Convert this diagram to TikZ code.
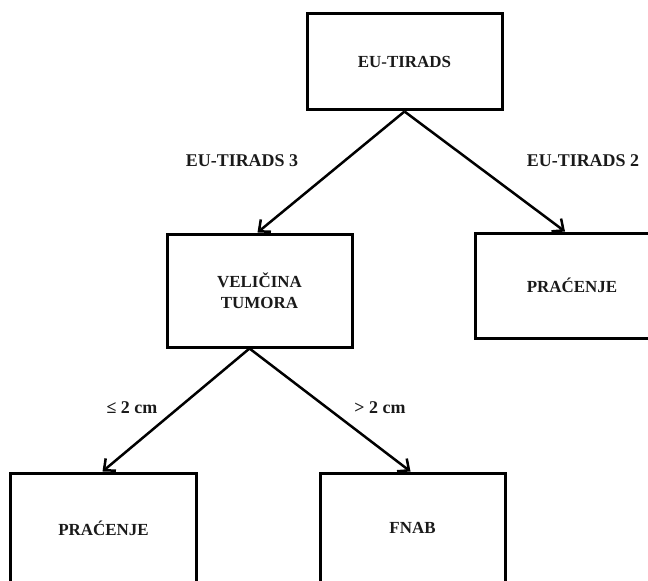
\documentclass[tikz,border=0pt]{standalone}
\usepackage{xcolor}
\usepackage{fontspec}
\setmainfont{Liberation Serif}
\usepackage{tikz}
\usetikzlibrary{positioning, arrows.meta}
\definecolor{boxborder}{HTML}{000000}
\definecolor{flowtext}{HTML}{1A1A1A}

\begin{document}
\begin{tikzpicture}[x=1bp, y=-1bp,
    flowbox/.style={draw=boxborder, line width=3bp, inner sep=0pt, align=center,
          text=flowtext, font=\bfseries\fontsize{17}{21}\selectfont},
    flowlabel/.style={text=flowtext, inner sep=0pt, font=\bfseries\fontsize{18}{21}\selectfont},
    flowarrow/.style={draw=boxborder, line width=2.5bp,
          -{Straight Barb[length=9bp, width=16bp, line width=2.5bp]}}]
    \useasboundingbox (0,0) rectangle (648,581);
    \clip (0,0) rectangle (648,581);
    % boxes
    \node[flowbox, minimum width=195bp, minimum height=96bp] (tirads) at (404.5,62) {EU-TIRADS};
    \node[flowbox, minimum width=185bp, minimum height=113bp] (velicina) at (259.5,290.5) {VELIČINA\\TUMORA};
    \node[flowbox, minimum width=194bp, minimum height=105bp] (pracenjeR) at (572,285.5) {PRAĆENJE};
    \node[flowbox, minimum width=185bp, minimum height=110bp] (pracenjeL) at (103.5,528) {PRAĆENJE};
    \node[flowbox, minimum width=185bp, minimum height=110bp] (fnab) at (412.5,528) {FNAB};
    % labels
    \node[flowlabel] (tirads3) at (242,161) {EU-TIRADS 3};
    \node[flowlabel] (tirads2) at (583,161) {EU-TIRADS 2};
    \node[flowlabel] (small) at (132,408) {≤ 2 cm};
    \node[flowlabel] (large) at (380,408) {> 2 cm};
    % arrows
    \draw[flowarrow] (tirads.south) -- ([xshift=-2bp]velicina.north);
    \draw[flowarrow] (tirads.south) -- ([xshift=-7bp]pracenjeR.north);
    \draw[flowarrow] ([xshift=-10bp]velicina.south) -- ([xshift=-1bp]pracenjeL.north);
    \draw[flowarrow] ([xshift=-10bp]velicina.south) -- ([xshift=-2bp]fnab.north);
  \end{tikzpicture}
\end{document}
